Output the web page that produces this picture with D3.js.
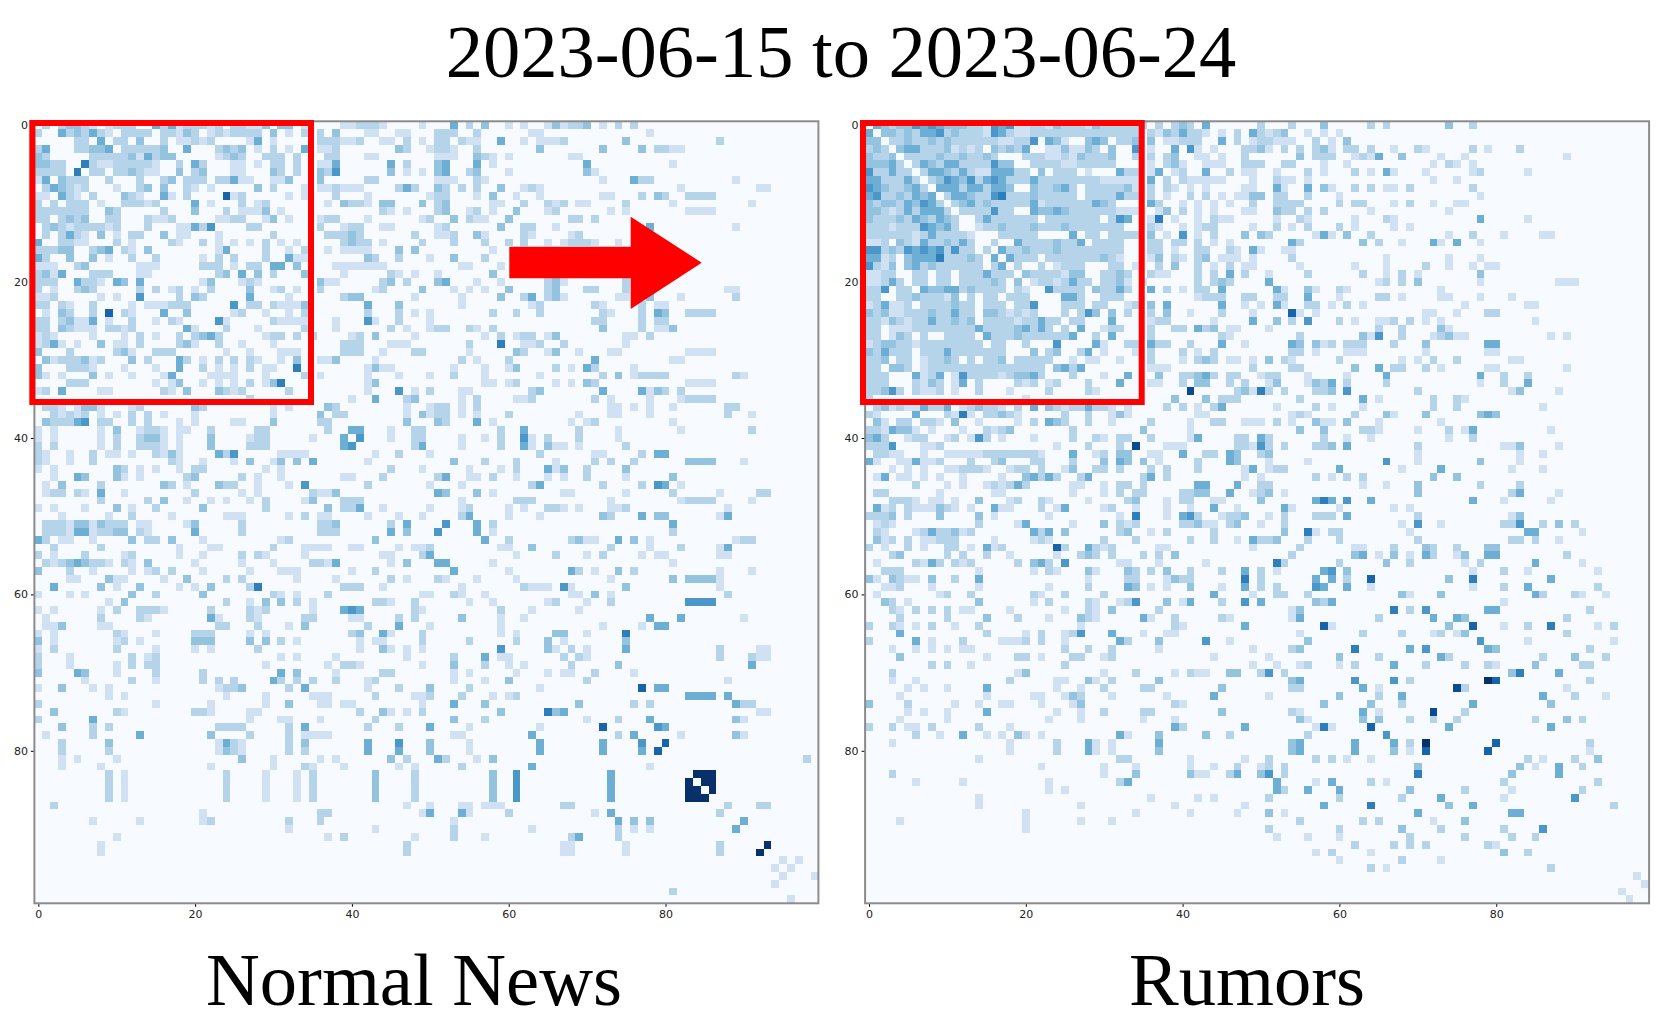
<!DOCTYPE html>
<html>
<head>
<meta charset="utf-8">
<script src="https://cdn.jsdelivr.net/npm/d3@7"></script>
<style>
  html, body { margin: 0; padding: 0; background: #fff; }
  svg { display: block; }
  .tick text { font-family: "DejaVu Sans", sans-serif; }
  .big { font-family: "Liberation Serif", serif; font-size: 74.5px; fill: #000; text-anchor: middle; }
</style>
</head>
<body>
<div class="canvas"></div>
<script>
const chartTitle = "2023-06-15 to 2023-06-24";
const panelNames = ["Normal News", "Rumors"];
const tickValues = [0, 20, 40, 60, 80];
const cellCount = 100;

// both matrices are symmetric, so only the upper triangle is kept.
// one string per row, "col:levels" = levels (hex, 0-10) for consecutive columns
const normalRows = [
  "1:3 3:3 4:4 5:4 6:3 7:2 9:2 10:3 11:3 12:3 15:5 16:3 17:5 18:2 19:3 20:3 21:3 22:2 23:3 25:3 26:3 27:2 28:2 29:4 31:4 32:4 34:2 39:2 40:2 41:3 42:3 43:3 44:2 49:2 53:5 55:3 57:4 60:2 62:2 65:2 66:4 67:2 68:3 69:3 70:4 72:2 74:3 76:3",
  "3:5 4:3 5:4 6:3 7:5 8:3 9:2 11:3 12:3 13:3 14:3 16:3 17:3 18:2 19:4 20:3 22:2 23:3 24:2 25:3 26:3 27:3 28:3 30:4 32:2 34:3 36:3 38:4 42:2 43:2 46:2 47:2 51:3 52:3 53:3 56:3 63:2 64:2 78:2",
  "5:3 6:3 8:5 10:3 11:3 13:4 16:3 18:2 19:2 20:3 21:2 22:3 27:2 28:5 30:2 36:3 37:3 38:3 39:2 40:2 41:3 44:2 45:2 47:3 49:2 51:3 52:3 54:3 55:2 56:2 59:5 62:2 64:2 65:2 66:2 67:3 75:4 87:3",
  "5:3 6:3 7:4 8:4 9:5 11:3 12:3 13:3 14:3 15:3 16:4 19:5 23:3 24:4 25:3 26:4 28:2 30:3 32:2 34:5 36:2 37:2 38:3 46:4 47:3 50:2 51:3 52:3 53:2 56:3 64:4 72:4 77:4 79:3 80:3 81:2 82:2",
  "7:3 8:3 9:3 10:3 11:3 12:4 13:2 14:5 15:3 16:4 17:4 23:2 24:3 25:4 26:3 29:3 30:3 31:3 33:3 37:3 38:3 42:2 43:2 51:2 52:2 53:2 56:4 57:3 58:2 60:2 68:2 69:2",
  "6:7 7:3 8:2 9:2 10:3 11:3 12:3 13:3 14:3 15:2 18:3 20:5 21:3 25:2 26:2 28:2 30:3 31:3 33:3 36:2 37:2 38:5 45:5 47:3 51:4 52:5 56:5 58:2 70:5 81:2",
  "7:3 8:3 10:3 11:3 12:4 13:3 14:2 15:2 18:4 20:3 21:4 25:2 26:2 30:4 31:3 33:3 36:4 37:3 38:6 45:4 47:2 49:2 51:4 52:5 55:3 56:4 60:2 70:4 71:2",
  "9:3 13:3 16:3 17:4 19:3 20:3 21:3 23:3 24:3 25:5 26:2 27:2 30:2 31:2 32:4 36:4 42:3 43:3 51:2 52:2 53:2 56:3 57:2 72:2 76:5 77:3 78:3 89:2",
  "10:2 13:3 14:4 16:4 19:3 20:2 22:2 28:4 30:3 34:2 36:2 37:2 38:3 39:2 40:2 41:2 46:3 47:5 48:3 51:4 52:3 54:3 56:3 59:4 62:2 63:3 64:2 82:2 92:2 93:2",
  "11:4 12:3 13:2 16:5 17:2 19:3 24:8 25:2 26:3 32:2 34:2 38:3 42:2 50:2 51:3 52:3 56:2 58:4 61:2 64:2 72:2 73:2 77:3 79:4 80:3 83:3 84:3 85:3 86:3",
  "11:3 12:3 13:3 14:2 15:3 20:5 22:2 26:3 28:2 29:3 37:2 39:4 40:3 41:3 42:2 44:4 45:4 49:4 51:3 52:4 58:2 59:2 62:3 65:3 66:2 67:3 69:2 70:2 75:3 81:2 91:2",
  "16:3 20:4 24:3 26:2 27:2 28:2 29:4 31:2 44:3 45:2 47:2 51:3 52:4 55:2 56:3 58:2 61:4 65:2 66:3 73:2 75:2 83:2 84:2 85:2 86:2",
  "14:3 15:2 16:2 17:3 23:2 24:2 25:3 26:3 29:2 30:4 32:2 36:2 37:3 38:3 42:2 49:2 50:3 53:4 55:3 56:2 57:2 60:4 68:3 69:3 71:3",
  "14:3 18:2 19:2 20:5 21:3 22:6 27:3 28:3 36:3 39:2 40:3 41:3 44:2 45:2 51:2 52:3 59:4 62:3 63:3 66:2 78:5 89:2",
  "16:4 18:2 19:2 23:2 30:3 37:3 38:3 39:3 40:4 41:3 48:3 51:2 52:2 53:3 56:4 57:2 62:3 63:2 68:2 69:3",
  "17:3 18:2 21:3 23:2 25:2 27:2 29:3 31:2 33:2 39:3 40:4 41:3 42:3 44:2 49:3 53:3 57:3 60:3 62:3 65:2 67:2 68:3 69:3 70:3 71:2 74:2",
  "23:2 24:5 29:3 32:2 34:3 37:2 39:2 40:2 41:2 42:2 46:4 48:4 58:2 62:2",
  "21:2 23:3 25:3 29:3 32:5 33:2 34:2 42:4 43:3 46:3 50:2 53:4 57:3",
  "21:3 22:3 23:3 25:2 27:3 28:3 30:5 31:5 33:4 38:2 39:2 40:2 41:2 42:2 43:2 44:2 54:2 55:2 59:2",
  "23:3 24:4 26:5 28:4 30:3 34:4 39:2 45:3 46:2 48:2 51:2 58:4",
  "21:2 22:4 26:2 27:3 28:2 36:4 37:2 38:2 44:3 45:4 47:3 51:4 52:5 56:2 59:2 65:3 66:4 67:2 75:3",
  "22:3 27:4 30:2 31:3 33:2 36:3 43:2 44:3 49:4 53:2 55:2 57:2 60:4 65:3 66:4 70:3 71:3 75:3 88:2 89:2",
  "27:5 32:2 39:3 40:4 41:4 48:2 54:2 59:4 62:3 63:5 65:3 66:4 67:2 74:2 75:2 78:4 82:2 89:3",
  "25:6 27:3 28:3 30:3 31:2 32:2 33:2 34:4 42:5 46:4 54:2 63:2 64:3 71:3 72:2 77:3 79:2 80:2",
  "25:2 26:3 29:2 32:2 34:3 42:3 46:3 48:2 50:2 58:3 61:3 64:3 72:3 73:2 77:3 79:5 80:4 83:3 84:3 85:3 86:3",
  "30:3 31:2 32:2 33:2 34:2 38:2 42:6 43:2 46:3 50:2 71:3 72:3 77:3 79:3 80:3",
  "28:2 34:3 38:2 45:3 47:2 50:2 51:3 52:3 55:3 56:2 58:3 72:4 77:3 79:2 80:2 81:4",
  "29:2 30:3 31:3 33:3 35:3 40:2 41:3 43:4 48:2 57:2 59:3 61:2 62:3 63:3 65:2 66:4 75:2 76:2 78:3",
  "30:2 39:3 40:3 41:3 45:2 46:2 47:2 55:3 59:7 62:2 63:2 64:3 67:3 75:2",
  "31:2 32:2 33:2 39:3 40:3 41:3 44:2 48:3 49:3 55:2 61:4 62:3 65:2 66:4 69:2 73:2 74:2 83:2 84:2 85:2 86:2",
  "31:2 33:4 36:2 37:2 38:4 43:2 54:3 56:2 60:3 71:5 81:2 82:2",
  "33:7 42:2 43:4 44:2 45:2 53:2 57:2 60:2 61:4 66:3 68:2 70:5 71:3 76:2",
  "34:3 36:2 42:2 46:2 50:2 53:3 57:2 64:2 72:3 74:4 76:2 77:3 78:3 79:3 80:3 89:3 90:2",
  "42:2 43:4 57:2 58:2 60:2 61:3 66:2 68:2 70:4 71:3 83:2 84:2 85:2 86:2",
  "42:2 46:6 48:2 50:3 54:2 55:2 63:3 64:4 72:5 77:5 78:2 79:4 80:3 82:3",
  "40:2 43:5 47:3 48:4 54:2 56:3 61:2 62:2 63:3 71:3 73:2 78:2 82:2 83:3 84:3 85:3 86:3",
  "37:4 38:3 47:2 50:2 51:3 52:3 54:2 56:3 73:2 74:2 76:2 78:2 81:2 88:3 89:3",
  "38:3 39:3 47:2 49:4 50:2 51:3 52:3 54:2 56:2 60:3 69:2 73:2 74:2 78:2 88:3 91:2",
  "47:4 51:4 52:3 56:5 58:2 68:2 70:2 71:3 81:2",
  "40:5 41:5 45:2 48:3 49:3 59:3 62:5 69:3 74:2 82:2 91:3",
  "41:6 45:2 48:3 49:3 54:2 57:2 59:3 62:6 63:2 65:3 69:3 74:2",
  "48:3 49:5 54:2 59:3 62:5 63:2 65:4 66:2 67:2 69:2 75:3",
  "43:2 46:3 50:2 64:3 71:2 72:2 77:3 79:5 80:5",
  "53:4 57:3 61:3 66:2 71:3 73:3 76:3 83:4 84:4 85:4 86:4 90:2",
  "45:3 49:2 55:2 59:2 61:3 65:5 66:2 67:4 70:3 75:4",
  "51:3 52:5 55:2 56:2 58:3 61:2 65:2 67:2 70:3 75:2 81:4",
  "50:2 54:2 63:3 64:5 72:3 77:3 79:6 80:5 82:2",
  "51:5 52:4 56:4 58:2 67:2 68:2 75:2 81:3 87:2 92:3 93:3",
  "54:2 61:3 62:3 63:3 73:2 82:2 83:3 84:3 85:3 86:3 91:2",
  "50:2 54:2 55:3 60:2 62:2 65:3 66:3 67:2 69:2 73:2 74:2 75:3 88:2",
  "54:3 55:5 60:2 64:2 72:4 73:3 77:5 79:4 80:4 87:2 88:5",
  "52:6 56:5 58:3 81:5",
  "56:5 58:2 81:3",
  "57:5 60:3 68:3 69:4 70:2 71:2 74:5 76:4 78:2 89:2 90:3 91:3",
  "59:2 60:2 63:4 73:3 78:2 82:3 87:2 88:5",
  "61:2 66:3 70:2 72:3 77:2 79:2 80:2 87:2 88:2",
  "58:2 81:2",
  "60:2 68:5 69:3 71:2 74:4 76:3 87:2 91:2",
  "61:2 73:2 81:4 83:4 84:4 85:4 86:4 87:2",
  "62:3 63:2 64:2 65:2 67:6 68:2 75:4 87:2",
  "68:2 69:2 71:4 73:2 88:3",
  "65:2 66:3 70:2 73:3 83:6 84:6 85:6 86:6",
  "63:2 69:2",
  "78:5 82:5 90:2",
  "72:2 77:2 79:5 80:5",
  "66:4 67:4 70:2 75:7",
  "67:2 75:4",
  "68:3 70:2 75:5 87:3 92:2 93:2",
  "69:3 70:2 87:3 91:3 92:2 93:2",
  "74:4 91:5",
  "71:3 76:2",
  "88:2",
  "77:8 79:5 80:5",
  "83:5 84:5 85:5 86:5 88:5",
  "76:3 78:3 89:5 90:3 91:3",
  "92:2 93:2",
  "78:5 89:4 90:2",
  "79:6 80:5",
  "82:2 89:4 90:2",
  "80:8",
  "",
  "98:3",
  "",
  "84:aaa",
  "85:aa",
  "86:a",
  "",
  "88:3 92:3 93:3",
  "",
  "90:5",
  "",
  "",
  "93:a",
  "",
  "95:2 97:2",
  "96:2",
  "99:2",
  "",
  "",
  ""
];

const rumorRows = [
  "1:54344656544433265622332433324333 33:333 37:3 39:343 43:5 50:3 54:3 58:4 64:3 66:3 74:4 77:3",
  "2:4434355634333265322 21:33333333333333 36:32435332 45:2 47:3 49:53234 56:2 58:2 60:2",
  "3:33433434333333223360542004540334 36:4 38:22333 45:5 47:3 49:233222 57:3 59:2 61:4",
  "4:455333423230434350022422430400 34:6 36:2 39:5 41:6 42:2 44:2 48:3 49:342 53:3 55:3 57:3 58:4 59:2 61:3 62:3 64:3 67:2 70:3 71:2 77:3 79:2 83:3",
  "5:33334334334300033322 25:3243334003 36:3 38:3 39:4 42:2 43:2 45:2 48:3 55:4 57:333 62:232 65:5 68:4 73:2 76:2 89:2",
  "6:3543553333 16:6440033332 26:233333 36:2 38:3 39:4 40:2 43:2 44:2 45:2 48:333 53:3 54:3 58:2 61:2 72:2 74:3 75:2 77:2",
  "7:3554353225 17:5533040333 27:02000533 36:2 37:5 39:2 40:3 43:5 46:3 48:2 49:2 52:2 56:3 58:2 62:3 64:2 66:5 67:2 71:2 77:2 78:3 84:2",
  "8:3465463565 18:3335333333 28:3322222 36:5 38:3 40:3 41:2 42:2 43:2 44:2 45:2 49:2 52:3 53:2 54:2 56:2 72:2 75:2",
  "9:5553553554 19:0043345303 29:333342 36:3 38:3 39:2 41:2 43:2 48:2 49:2 52:5 53:2 56:5 58:4 59:2 62:3 64:3 66:2 67:2 69:3 77:3",
  "10:3554336733 20:3433333033 30:33533 36:3 38:2 41:3 43:3 45:2 47:2 48:2 49:4 50:4 52:3 53:3 56:3 60:2 78:2",
  "11:3453433333 21:5233333354 31:3 36:5 37:3 40:2 42:2 44:2 46:2 49:3 52:3 53:3 54:3 55:3 60:3 62:3 63:3 67:2 69:3 72:2 75:2 76:2",
  "12:3333633005 22:4454333333 32:222 37:2 38:4 40:3 42:2 44:2 48:2 49:2 52:4 53:3 54:3 56:3 58:3 64:2 74:2",
  "14:3533333303 24:3333330365 36:2 37:7 39:2 42:2 44:3 45:2 46:2 52:2 55:3 56:2 62:2 66:3 67:2 78:5 84:2",
  "14:2334333433 24:343333333 36:3 37:2 40:2 42:2 43:3 44:3 49:2 52:3 54:2 56:3 60:3 62:2 67:2 69:2",
  "17:33333 26:5 28:33 31:3333 36:4 38:2 40:6 42:2 44:3 48:4 50:43 57:252 61:4 64:3 74:2 77:3 81:2 86:2 87:2",
  "16:3 19:53333433503333 36:33 39:33 42:3 44:2 46:2 54:53 63:4 65:3 68:2 72:52 75:5 78:2",
  "17:5334333433 27:333333 36:33 39:2 42:33 46:32 49:52 53:22",
  "18:5333033333 28:33432 36:24 39:32 42:34 45:222 49:2 54:3 66:2 74:2 78:2",
  "19:3 22:3 24:2333 31:33 34:2 37:3 39:4 42:3 44:2 46:3 48:22 55:2 62:2 66:2 71:3 74:2 77:2 79:22",
  "20:43333244 30:3343 36:322 42:3 44:3 46:5 48:3 51:2 56:3 63:3 66:2 68:3 70:2 78:4",
  "21:23323533 30:3342 35:2 42:3 44:343 51:5 65:23 68:3 70:4 78:2 88:222",
  "23:63333 29:43353 36:5 38:3 40:2 42:33 45:5 52:52 56:42 60:32 73:2",
  "25:553 30:333 42:2333 48:33 52:33 56:5 60:2 65:33 68:2 73:22 78:2 82:2",
  "25:333 29:33 33:23 36:4 38:5 45:5 48:2 50:2 52:52 56:33 59:2 61:3 63:2 76:2 84:22",
  "25:3 27:3 28:64 31:4 33:3 36:3 38:4 41:2 45:3 49:2 54:82 57:2 71:22 75:2 79:33",
  "26:33 31:5 36:233 44:2 49:5 52:4 54:3 56:6 60:3 62:2 65:223 69:3 71:2 73:2 85:2",
  "27:5 30:233 36:3 39:33 42:534 46:22 51:2 65:3 68:3 73:42",
  "29:3 31:5 36:3 45:32 55:3 63:426 68:3 72:23422 87:2 89:2",
  "29:52 33:33 36:533 41:3 45:5 48:2 54:54 57:423 61:333 67:3 71:4 79:55",
  "30:2 34:2 36:3 40:3 42:2 44:3 54:33 57:2 61:222 71:2 79:22",
  "32:2 36:3 40:2 42:343 46:22 49:2 51:4 53:32 60:3 68:2 70:2 72:3 75:3 82:22",
  "36:222 49:3 54:33 62:4 65:5 67:33 71:3 73:2 79:22 89:2",
  "33:5 37:4 40:3345 44:3 46:33 50:233 56:2 61:2 66:5 78:5 81:3 84:3",
  "36:22 40:3 42:44 46:3 48:3 51:24 56:2435 61:3 66:3 78:2 81:3 84:5",
  "41:9 47:342 50:73 53:3 57:334 61:6 70:3 82:24 88:2",
  "39:4 43:4 45:333 55:3 63:5 65:2 72:3 75:32",
  "38:3 40:3 42:2 44:35 52:2 57:3 59:2 63:2 72:3 75:3 86:2",
  "42:22 54:232 62:3 66:42 71:4 78:454",
  "41:2 44:33 48:222 52:3 54:2 57:422 61:4 65:2 73:2",
  "41:2 55:4 58:4 63:332 70:2 74:3 76:25 87:2",
  "41:25 47:33 50:53 58:3 61:2 64:2 74:2 77:3",
  "47:332 50:63 53:3 57:334 61:5 70:3 81:224 88:2",
  "43:33 46:54 50:34 70:2 83:2 86:2",
  "46:54 51:2 56:2 66:6 70:2 78:4 83:2",
  "48:25 51:233 60:5 68:2 73:5 82:2 86:2",
  "48:2 50:2 57:3 59:2 61:3 63:3 72:4 75:4",
  "47:5 50:33 63:2 66:2 70:4 78:3 83:3",
  "49:2 50:34 53:2 70:4 82:35 88:2",
  "50:4 57:575 61:6 64:5 77:5 81:2 87:2",
  "53:52 60:2 67:2 69:2",
  "51:2 53:3 57:333 61:5 70:3 82:24",
  "53:3 68:2 70:6 73:2 81:336 86:3 88:4 90:3",
  "53:4 56:72 59:33 69:2 84:55 91:2",
  "56:3 60:3 70:3 82:33 85:3 88:2",
  "55:3 62:22 67:3 71:43 75:3 79:44",
  "62:45 65:2 67:4 69:2 71:53 75:24 79:55 89:3",
  "60:3 66:4 69:3 76:2 78:3 85:5 91:2",
  "58:56 61:4 77:2 81:3 84:2 93:2",
  "59:5 61:3 64:8 74:4 77:7 87:5",
  "61:5 64:2 77:2 81:3 84:5 93:3",
  "68:42 73:4 85:53 90:32 94:2",
  "81:2",
  "67:7 69:3 71:6 79:55 92:3",
  "65:3 72:5 75:54 89:3",
  "74:4 77:8 81:2 84:3 87:7 93:2 95:3",
  "68:3 72:23 75:24 89:3",
  "78:6 84:2 95:2",
  "69:5 71:6 79:54 92:3",
  "73:53 86:3 90:4 94:3",
  "71:3 76:3 79:32 85:4 91:33",
  "82:47 88:5",
  "79:a8 92:3",
  "75:93 89:2",
  "86:5 90:3 94:2",
  "77:5 87:4",
  "76:3",
  "85:3 89:4 91:3",
  "87:5",
  "",
  "80:8 92:3",
  "92:2",
  "84:3 86:2 90:3 93:4",
  "83:4 85:2 88:5 91:3",
  "88:5",
  "93:3",
  "91:3",
  "90:6",
  "95:3",
  "",
  "",
  "",
  "",
  "",
  "",
  "",
  "",
  "98:2",
  "99:2",
  "",
  ""
];

const width = 1662;
const height = 1028;

const color = d3.scaleSequential(d3.interpolateBlues).domain([0, 10]);

// expand the row strings and mirror across the diagonal
const toCells = rows => rows.flatMap((row, r) =>
  row.split(" ").filter(Boolean).flatMap(token => {
    const [start, levels] = token.split(":");
    return [...levels].flatMap((ch, i) => {
      const v = parseInt(ch, 16);
      const c = +start + i;
      return v ? [{ r, c, v }, { r: c, c: r, v }] : [];
    });
  })
);

const svg = d3.select(".canvas").append("svg")
  .attr("width", width)
  .attr("height", height);

const plotTop = 121.3;
const plotBottom = 903.3;

function drawPanel(rows, left, right) {
  const x = d3.scaleLinear().domain([-0.5, cellCount - 0.5]).range([left, right]);
  const y = d3.scaleLinear().domain([-0.5, cellCount - 0.5]).range([plotTop, plotBottom]);
  const w = x(1) - x(0);
  const h = y(1) - y(0);

  const g = svg.append("g");

  g.append("rect")
    .attr("x", left).attr("y", plotTop)
    .attr("width", right - left).attr("height", plotBottom - plotTop)
    .attr("fill", color(0));

  g.selectAll("rect.cell")
    .data(toCells(rows))
    .enter()
    .append("rect")
    .attr("class", "cell")
    .attr("x", d => x(d.c - 0.5))
    .attr("y", d => y(d.r - 0.5))
    .attr("width", w)
    .attr("height", h)
    .attr("shape-rendering", "crispEdges")
    .attr("fill", d => color(d.v));

  const xAxis = d3.axisBottom(x).tickValues(tickValues).tickSize(3.5).tickPadding(3).tickSizeOuter(0);
  const yAxis = d3.axisLeft(y).tickValues(tickValues).tickSize(3.5).tickPadding(3).tickSizeOuter(0);

  g.append("g").attr("transform", `translate(0, ${plotBottom})`).call(xAxis)
    .call(a => a.select(".domain").remove())
    .selectAll("text").attr("font-size", 11).attr("fill", "#222");
  g.append("g").attr("transform", `translate(${left}, 0)`).call(yAxis)
    .call(a => a.select(".domain").remove())
    .selectAll("text").attr("font-size", 11).attr("fill", "#222");

  // spines
  g.append("rect")
    .attr("x", left).attr("y", plotTop)
    .attr("width", right - left).attr("height", plotBottom - plotTop)
    .attr("fill", "none")
    .attr("stroke", "#8c8c8c")
    .attr("stroke-width", 2);

  // red highlight box
  g.append("rect")
    .attr("x", left - 2.1).attr("y", 123)
    .attr("width", 278.7).attr("height", 279)
    .attr("fill", "none")
    .attr("stroke", "#ff0000")
    .attr("stroke-width", 6);
}

drawPanel(normalRows, 34.4, 818.4);
drawPanel(rumorRows, 865.1, 1649.1);

// arrow between the panels
const arrow = [[509.3, 246.7], [630.7, 246.7], [630.7, 216.7], [701.7, 262.7], [630.7, 309], [630.7, 278.3], [509.3, 278.3]];
svg.append("path")
  .attr("d", d3.line()(arrow) + "Z")
  .attr("fill", "#ff0000");

svg.append("text").attr("class", "big").attr("x", 841).attr("y", 77).text(chartTitle);
svg.append("text").attr("class", "big").attr("x", 414).attr("y", 1005).text(panelNames[0]);
svg.append("text").attr("class", "big").attr("x", 1247).attr("y", 1005).text(panelNames[1]);
</script>
</body>
</html>
